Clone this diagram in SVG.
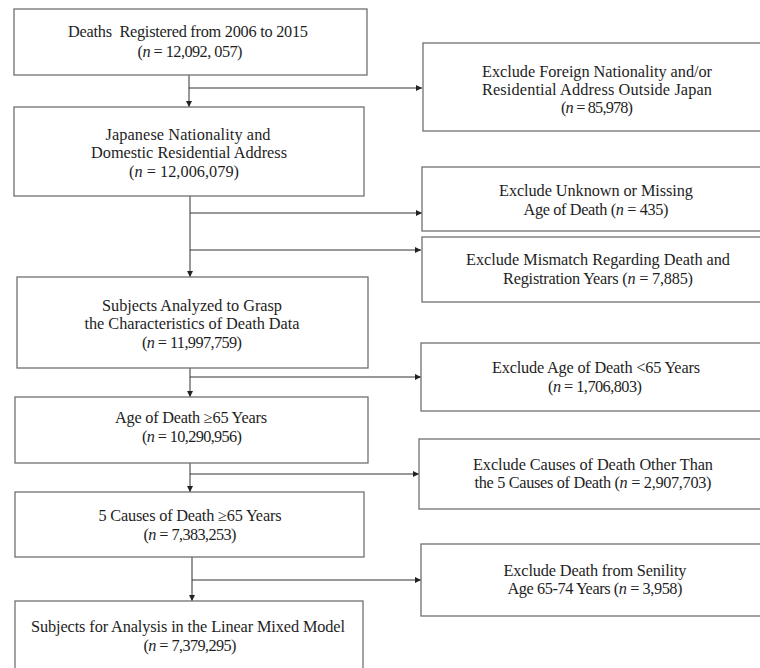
<svg xmlns="http://www.w3.org/2000/svg" width="760" height="668" viewBox="0 0 760 668">
<style>
.box{fill:#fff;stroke:#707070;stroke-width:1.3}
.t{font-family:"Liberation Serif","Times New Roman",serif;font-size:16.3px;fill:#1e1e1e;text-anchor:middle}
.i{font-style:italic}
.c{stroke:#333;stroke-width:1;fill:none}
</style>
<defs>
<marker id="ah" viewBox="0 0 6 6" refX="6" refY="3" markerWidth="6" markerHeight="6" markerUnits="userSpaceOnUse" orient="auto">
<path d="M0,0 L6,3 L0,6 Z" fill="#222"/>
</marker>
</defs>
<rect width="760" height="668" fill="#fff"/>
<g id="connectors">
<line class="c" x1="189" y1="75" x2="189" y2="107" marker-end="url(#ah)"/>
<line class="c" x1="189" y1="88" x2="422" y2="88" marker-end="url(#ah)"/>
<line class="c" x1="190" y1="196" x2="190" y2="277" marker-end="url(#ah)"/>
<line class="c" x1="190" y1="213" x2="422" y2="213" marker-end="url(#ah)"/>
<line class="c" x1="190" y1="250" x2="421" y2="250" marker-end="url(#ah)"/>
<line class="c" x1="190" y1="368" x2="190" y2="397" marker-end="url(#ah)"/>
<line class="c" x1="190" y1="377" x2="421" y2="377" marker-end="url(#ah)"/>
<line class="c" x1="190" y1="463" x2="190" y2="492" marker-end="url(#ah)"/>
<line class="c" x1="190" y1="474" x2="419" y2="474" marker-end="url(#ah)"/>
<line class="c" x1="192" y1="557" x2="192" y2="601" marker-end="url(#ah)"/>
<line class="c" x1="192" y1="580" x2="421" y2="580" marker-end="url(#ah)"/>
</g>
<g id="n1">
<rect class="box" x="14" y="9" width="353" height="66"/>
<text class="t" x="188" y="37" textLength="240">Deaths&#160; Registered from 2006 to 2015</text>
<text class="t" x="190" y="57" textLength="105">(<tspan class="i">n</tspan> = 12,092, 057)</text>
</g>
<g id="n2">
<rect class="box" x="14" y="107" width="350" height="89"/>
<text class="t" x="188" y="140" textLength="165">Japanese Nationality and</text>
<text class="t" x="189" y="158" textLength="196">Domestic Residential Address</text>
<text class="t" x="184" y="177" textLength="110">(<tspan class="i">n</tspan> = 12,006,079)</text>
</g>
<g id="n3">
<rect class="box" x="17" y="277" width="351" height="91"/>
<text class="t" x="192" y="311" textLength="180">Subjects Analyzed to Grasp</text>
<text class="t" x="192" y="329" textLength="215">the Characteristics of Death Data</text>
<text class="t" x="192" y="348" textLength="100">(<tspan class="i">n</tspan> = 11,997,759)</text>
</g>
<g id="n4">
<rect class="box" x="15" y="397" width="353" height="66"/>
<text class="t" x="191" y="423" textLength="152">Age of Death ≥65 Years</text>
<text class="t" x="192" y="442" textLength="100">(<tspan class="i">n</tspan> = 10,290,956)</text>
</g>
<g id="n5">
<rect class="box" x="15" y="492" width="349" height="65"/>
<text class="t" x="190" y="521" textLength="183">5 Causes of Death ≥65 Years</text>
<text class="t" x="190" y="540" textLength="93">(<tspan class="i">n</tspan> = 7,383,253)</text>
</g>
<g id="n6">
<rect class="box" x="15" y="601" width="348" height="80"/>
<text class="t" x="188" y="632" textLength="314">Subjects for Analysis in the Linear Mixed Model</text>
<text class="t" x="190" y="651" textLength="93">(<tspan class="i">n</tspan> = 7,379,295)</text>
</g>
<g id="r1">
<rect class="box" x="423" y="43" width="350" height="88"/>
<text class="t" x="597" y="77" textLength="230">Exclude Foreign Nationality and/or</text>
<text class="t" x="597" y="95" textLength="230">Residential Address Outside Japan</text>
<text class="t" x="597" y="113" textLength="72">(<tspan class="i">n</tspan> = 85,978)</text>
</g>
<g id="r2">
<rect class="box" x="422" y="167" width="350" height="64"/>
<text class="t" x="596" y="196" textLength="194">Exclude Unknown or Missing</text>
<text class="t" x="596" y="215" textLength="145">Age of Death (<tspan class="i">n</tspan> = 435)</text>
</g>
<g id="r3">
<rect class="box" x="422" y="237" width="350" height="65"/>
<text class="t" x="598" y="265" textLength="264">Exclude Mismatch Regarding Death and</text>
<text class="t" x="598" y="284" textLength="190">Registration Years (<tspan class="i">n</tspan> = 7,885)</text>
</g>
<g id="r4">
<rect class="box" x="421" y="343" width="350" height="68"/>
<text class="t" x="596" y="373" textLength="208">Exclude Age of Death &lt;65 Years</text>
<text class="t" x="595" y="392" textLength="94">(<tspan class="i">n</tspan> = 1,706,803)</text>
</g>
<g id="r5">
<rect class="box" x="419" y="439" width="350" height="70"/>
<text class="t" x="593" y="470" textLength="240">Exclude Causes of Death Other Than</text>
<text class="t" x="593" y="488" textLength="237">the 5 Causes of Death (<tspan class="i">n</tspan> = 2,907,703)</text>
</g>
<g id="r6">
<rect class="box" x="421" y="544" width="350" height="72"/>
<text class="t" x="595" y="576" textLength="183">Exclude Death from Senility</text>
<text class="t" x="595" y="594" textLength="175">Age 65-74 Years (<tspan class="i">n</tspan> = 3,958)</text>
</g>
</svg>
